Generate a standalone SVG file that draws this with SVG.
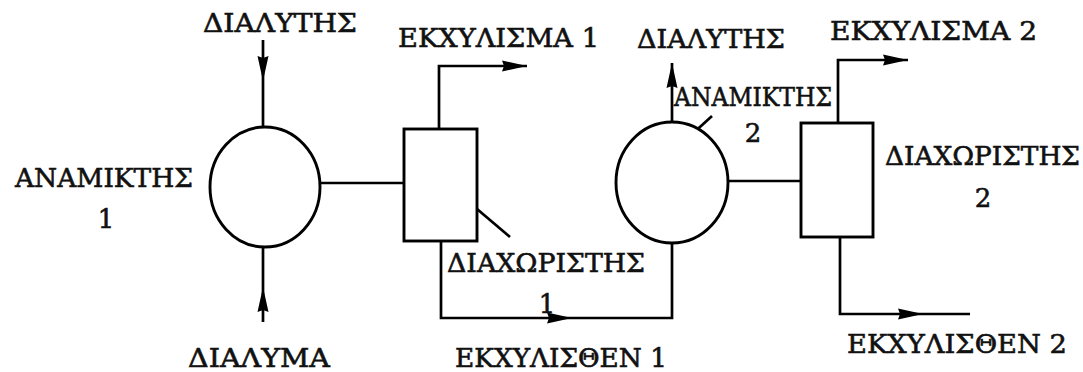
<svg xmlns="http://www.w3.org/2000/svg" width="1083" height="372" viewBox="0 0 1083 372">
  <style>
    .ln { fill: none; stroke: #000; stroke-width: 2.7; stroke-linejoin: miter; }
    .sh { fill: #fff; stroke: #000; stroke-width: 2.9; }
    .lb { font-family: "DejaVu Serif", "Liberation Serif", serif; font-size: 26px; fill: #111; stroke: #111; stroke-width: 0.6; }
    .mid { text-anchor: middle; }
  </style>
  <defs>
    <marker id="ah" markerUnits="userSpaceOnUse" viewBox="0 0 25 12" refX="25" refY="6" markerWidth="25" markerHeight="12" orient="auto">
      <path d="M0,0.5 L25,6 L0,11.5 L2,6 Z" fill="#000"/>
    </marker>
  </defs>
  <rect width="1083" height="372" fill="#fff"/>

  <g id="connectors">
    <path class="ln" d="M263,40 L263,81" marker-end="url(#ah)"/>
    <path class="ln" d="M263,81 L263,127"/>
    <path class="ln" d="M263,322 L263,287" marker-end="url(#ah)"/>
    <path class="ln" d="M263,287 L263,247"/>
    <path class="ln" d="M320,183 L404,183"/>
    <path class="ln" d="M439,129 L439,66 L527,66" marker-end="url(#ah)"/>
    <path class="ln" d="M441,241 L441,318 L572,318" marker-end="url(#ah)"/>
    <path class="ln" d="M572,318 L672,318 L672,243"/>
    <path class="ln" d="M477,209 L510,237"/>
    <path class="ln" d="M672,122 L672,63" marker-end="url(#ah)"/>
    <path class="ln" d="M678,147 L712,116"/>
    <path class="ln" d="M728,181 L801,181"/>
    <path class="ln" d="M838,123 L838,60 L908,60" marker-end="url(#ah)"/>
    <path class="ln" d="M840,237 L840,314 L923,314" marker-end="url(#ah)"/>
    <path class="ln" d="M923,314 L970,314"/>
  </g>

  <g id="mixer1">
    <ellipse class="sh" cx="265" cy="187" rx="55" ry="60"/>
    <text class="lb" x="15" y="187" textLength="178" lengthAdjust="spacingAndGlyphs">ΑΝΑΜΙΚΤΗΣ</text>
    <text class="lb mid" x="106" y="228">1</text>
  </g>
  <g id="separator1">
    <rect class="sh" x="404" y="129" width="73" height="112"/>
    <text class="lb" x="447" y="272" textLength="198" lengthAdjust="spacingAndGlyphs">ΔΙΑΧΩΡΙΣΤΗΣ</text>
    <text class="lb mid" x="547" y="313">1</text>
  </g>
  <g id="mixer2">
    <ellipse class="sh" cx="672" cy="182.5" rx="56" ry="60.5"/>
    <text class="lb" x="674" y="106" textLength="158" lengthAdjust="spacingAndGlyphs">ΑΝΑΜΙΚΤΗΣ</text>
    <text class="lb mid" x="753" y="142">2</text>
  </g>
  <g id="separator2">
    <rect class="sh" x="801" y="123" width="72" height="114"/>
    <text class="lb" x="885" y="165" textLength="195" lengthAdjust="spacingAndGlyphs">ΔΙΑΧΩΡΙΣΤΗΣ</text>
    <text class="lb mid" x="983" y="207">2</text>
  </g>

  <g id="stream-labels">
    <text class="lb" x="203" y="32" textLength="154" lengthAdjust="spacingAndGlyphs">ΔΙΑΛΥΤΗΣ</text>
    <text class="lb" x="398" y="47" textLength="201" lengthAdjust="spacingAndGlyphs">ΕΚΧΥΛΙΣΜΑ 1</text>
    <text class="lb" x="637" y="48" textLength="148" lengthAdjust="spacingAndGlyphs">ΔΙΑΛΥΤΗΣ</text>
    <text class="lb" x="830" y="40" textLength="207" lengthAdjust="spacingAndGlyphs">ΕΚΧΥΛΙΣΜΑ 2</text>
    <text class="lb" x="188" y="367" textLength="142" lengthAdjust="spacingAndGlyphs">ΔΙΑΛΥΜΑ</text>
    <text class="lb" x="455" y="367" textLength="212" lengthAdjust="spacingAndGlyphs">ΕΚΧΥΛΙΣΘΕΝ 1</text>
    <text class="lb" x="847" y="353" textLength="220" lengthAdjust="spacingAndGlyphs">ΕΚΧΥΛΙΣΘΕΝ 2</text>
  </g>
</svg>
